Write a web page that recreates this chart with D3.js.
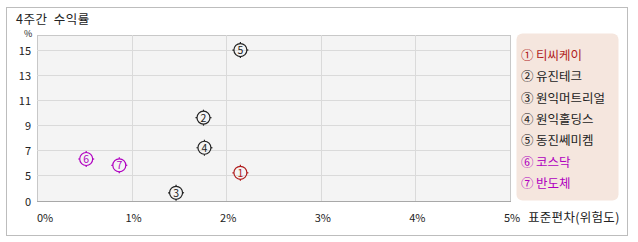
<!DOCTYPE html>
<html>
<head>
<meta charset="utf-8">
<script src="https://cdn.jsdelivr.net/npm/d3@7"></script>
<style>
  body { margin: 0; background: #fff; }
  text { font-family: "Noto Sans CJK KR", "DejaVu Sans", sans-serif; }
</style>
</head>
<body>
<svg id="chart" width="638" height="242"></svg>
<script>
// data
const names = ["티씨케이", "유진테크", "원익머트리얼", "원익홀딩스", "동진쎄미켐", "코스닥", "반도체"];
const marks = ["①", "②", "③", "④", "⑤", "⑥", "⑦"];
const stdDev = [2.15, 1.76, 1.47, 1.77, 2.15, 0.52, 0.87];
const returns = [5.2, 9.6, 1.6, 7.2, 15.0, 6.3, 5.8];
const colors = ["#b01c1c", "#222222", "#222222", "#222222", "#222222", "#b000c0", "#b000c0"];
const xTicks = [0, 1, 2, 3, 4, 5];
const yTicks = [0, 5, 7, 9, 11, 13, 15];

const svg = d3.select("#chart");

// outer frame
svg.append("rect")
    .attr("x", 6.5).attr("y", 7.5)
    .attr("width", 621).attr("height", 228)
    .attr("fill", "#fff")
    .attr("stroke", "#bdbdbd");

svg.append("text")
    .attr("x", 16).attr("y", 24)
    .attr("font-size", 12.5)
    .attr("word-spacing", 3)
    .attr("letter-spacing", 0.5)
    .attr("fill", "#222")
    .text("4주간 수익률");

const plot = { left: 37, right: 510, top: 35, bottom: 201 };

let x = d3.scaleLinear().domain([0, 5]).range([plot.left, plot.right]);
// the axis is broken between 0 and 5
let y = d3.scaleLinear().domain([0, 5, 16.2]).range([plot.bottom, 175.3, plot.top]);

svg.append("rect")
    .attr("x", plot.left + 0.5).attr("y", plot.top + 0.5)
    .attr("width", plot.right - plot.left).attr("height", plot.bottom - plot.top)
    .attr("fill", "#f4f4f4")
    .attr("stroke", "#c8c8c8");

let grid = svg.append("g");
grid.selectAll("line.v")
    .data(xTicks.slice(1, -1))
    .join("line")
    .attr("class", "v")
    .attr("x1", d => Math.round(x(d)) + 0.5).attr("x2", d => Math.round(x(d)) + 0.5)
    .attr("y1", plot.top).attr("y2", plot.bottom)
    .attr("stroke", "#dadada");
grid.selectAll("line.h")
    .data(yTicks.slice(1))
    .join("line")
    .attr("class", "h")
    .attr("x1", plot.left).attr("x2", plot.right)
    .attr("y1", d => Math.round(y(d)) + 0.5).attr("y2", d => Math.round(y(d)) + 0.5)
    .attr("stroke", "#dadada");

// base line
svg.append("line")
    .attr("x1", plot.left).attr("x2", plot.right + 1)
    .attr("y1", plot.bottom + 0.5).attr("y2", plot.bottom + 0.5)
    .attr("stroke", "#a8a8a8");

svg.append("g")
    .selectAll("text")
    .data(yTicks)
    .join("text")
    .attr("x", 31)
    .attr("y", d => y(d) + 4.5)
    .attr("text-anchor", "end")
    .attr("font-size", 11)
    .attr("fill", "#222")
    .text(d => d);

svg.append("text")
    .attr("x", 24).attr("y", 37)
    .attr("font-size", 9)
    .attr("fill", "#222")
    .text("%");

svg.append("g")
    .selectAll("text")
    .data(xTicks)
    .join("text")
    .attr("x", (d, i) => i === 0 ? x(d) : x(d) + 2)
    .attr("y", 222)
    .attr("text-anchor", (d, i) => i === 0 ? "start" : "middle")
    .attr("font-size", 11)
    .attr("fill", "#222")
    .text(d => d + "%");

svg.append("text")
    .attr("x", 528).attr("y", 222)
    .attr("font-size", 12.5)
    .attr("letter-spacing", 0.3)
    .attr("fill", "#222")
    .text("표준편차(위험도)");

// points
let pts = svg.append("g")
    .selectAll("g")
    .data(names.map((n, i) => ({ i: i, sx: stdDev[i], r: returns[i] })))
    .join("g")
    .attr("transform", d => `translate(${x(d.sx)},${y(d.r)})`);

pts.append("circle")
    .attr("r", 6.5)
    .attr("fill", "none")
    .attr("stroke", d => colors[d.i])
    .attr("stroke-width", 1.2);

pts.selectAll("line")
    .data(d => [[0, -1], [0, 1], [-1, 0], [1, 0]].map(v => ({ v: v, c: colors[d.i] })))
    .join("line")
    .attr("x1", d => d.v[0] * 6.5).attr("y1", d => d.v[1] * 6.5)
    .attr("x2", d => d.v[0] * 8).attr("y2", d => d.v[1] * 8)
    .attr("stroke", d => d.c)
    .attr("stroke-width", 1.2);

pts.append("text")
    .attr("y", 4)
    .attr("text-anchor", "middle")
    .attr("font-size", 10.5)
    .attr("fill", d => colors[d.i])
    .text(d => d.i + 1);

// legend
svg.append("rect")
    .attr("x", 516.5).attr("y", 33.5)
    .attr("width", 102).attr("height", 167)
    .attr("rx", 6)
    .attr("fill", "#f5e6de");

svg.append("g")
    .selectAll("text")
    .data(names)
    .join("text")
    .attr("x", 521)
    .attr("y", (d, i) => 60 + i * 21.3)
    .attr("font-size", 12.5)
    .attr("fill", (d, i) => colors[i])
    .text((d, i) => marks[i] + "\u2009" + d);
</script>
</body>
</html>
